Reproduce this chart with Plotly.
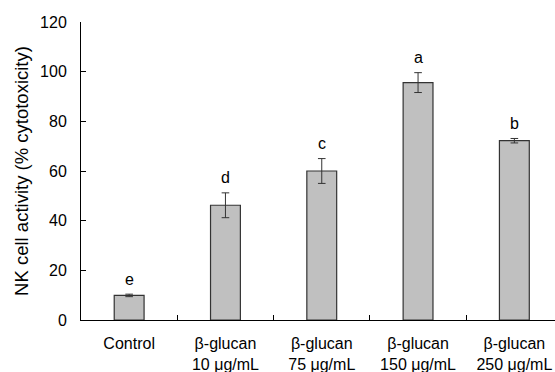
import plotly.graph_objects as go

categories = ["Control", "β-glucan<br>10 μg/mL", "β-glucan<br>75 μg/mL",
              "β-glucan<br>150 μg/mL", "β-glucan<br>250 μg/mL"]
values = [9.9, 46.2, 60.0, 95.6, 72.2]
errors = [0.5, 5.0, 5.0, 4.0, 0.9]
letters = ["e", "d", "c", "a", "b"]
yticks = [0, 20, 40, 60, 80, 100, 120]

FONT = "Liberation Sans, Arial, sans-serif"

fig = go.Figure()
fig.add_trace(go.Bar(
    x=categories, y=values,
    marker=dict(color="#c0c0c0", line=dict(color="#333333", width=1.2)),
    width=0.31,
    error_y=dict(type="data", array=errors, visible=True, color="#333333",
                 thickness=1, width=3.8),
))

for c, v, e, l in zip(categories, values, errors, letters):
    fig.add_annotation(x=c, y=v + e, text=l, showarrow=False, yanchor="middle",
                       yshift=15, font=dict(family=FONT, size=16, color="black"))

fig.update_layout(
    width=555, height=372,
    margin=dict(l=81, r=0, t=22, b=52),
    plot_bgcolor="white", paper_bgcolor="white",
    showlegend=False,
    font=dict(family=FONT, size=16, color="black"),
)
fig.update_xaxes(
    type="category", range=[-0.5, 4.422],
    showline=True, linecolor="black", linewidth=1,
    ticks="inside", tickson="boundaries", ticklen=5, tickcolor="black",
    ticklabelstandoff=9,
    showgrid=False, zeroline=False,
    tickfont=dict(family=FONT, size=16, color="black"),
)
fig.update_yaxes(
    range=[0, 120], tickvals=yticks,
    showline=True, linecolor="black", linewidth=1,
    ticks="inside", ticklen=5, tickcolor="black",
    ticklabelstandoff=10,
    showgrid=False, zeroline=False,
    title=dict(text="NK cell activity (% cytotoxicity)", standoff=6,
               font=dict(family=FONT, size=18.5, color="black")),
    tickfont=dict(family=FONT, size=16, color="black"),
)

fig.write_html("out.html")
